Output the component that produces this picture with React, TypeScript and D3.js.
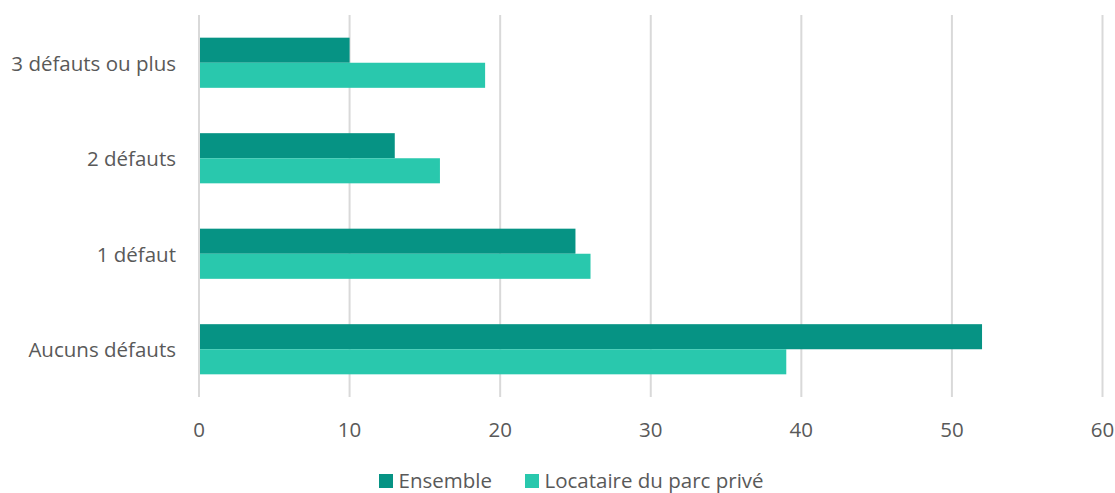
import React from "react";
import * as d3 from "d3";

const categories = ["3 défauts ou plus", "2 défauts", "1 défaut", "Aucuns défauts"];
const seriesNames = ["Ensemble", "Locataire du parc privé"];
const ensemble = [10, 13, 25, 52];
const locataire = [19, 16, 26, 39];
const ticks = [0, 10, 20, 30, 40, 50, 60];
const colors = ["#069384", "#29c8ad"];

export default function App() {
  const W = 1115, H = 493;
  const x = d3.scaleLinear().domain([0, 60]).range([199, 1102.5]);
  const y = d3.scaleBand<string>().domain(categories).range([15, 397]).paddingInner(0.475).paddingOuter(0.2375);
  const inner = d3.scaleBand<number>().domain([0, 1]).range([0, y.bandwidth()]);
  const series = [ensemble, locataire];
  const font = "'Open Sans', sans-serif";
  const fs = 20.5;
  return (
    <svg width={W} height={H} style={{ position: "absolute", left: 0, top: 0 }}>
      <rect width={W} height={H} fill="#fff" />
      {ticks.map((t) => (
        <line key={t} x1={x(t)} x2={x(t)} y1={15} y2={397} stroke="#d9d9d9" strokeWidth={2} />
      ))}
      {categories.map((c, i) => (
        <g key={c}>
          {series.map((s, j) => (
            <rect key={j} x={x(0) + 1} y={(y(c) as number) + (inner(j) as number)} width={x(s[i]) - x(0) - 1}
              height={inner.bandwidth()} fill={colors[j]} />
          ))}
          <text x={176} y={(y(c) as number) + y.bandwidth() / 2} textAnchor="end" dominantBaseline="central"
            fontFamily={font} fontSize={fs} fill="#595959">{c}</text>
        </g>
      ))}
      {ticks.map((t) => (
        <text key={t} x={x(t)} y={428.5} textAnchor="middle" dominantBaseline="central" fontFamily={font}
          fontSize={fs} fill="#595959">{t}</text>
      ))}
      {seriesNames.map((n, j) => {
        const lx = j === 0 ? 379 : 525;
        return (
          <g key={n}>
            <rect x={lx} y={474} width={14} height={14} fill={colors[j]} />
            <text x={lx + 19.5} y={487.5} fontFamily={font} fontSize={fs} fill="#595959">{n}</text>
          </g>
        );
      })}
    </svg>
  );
}
